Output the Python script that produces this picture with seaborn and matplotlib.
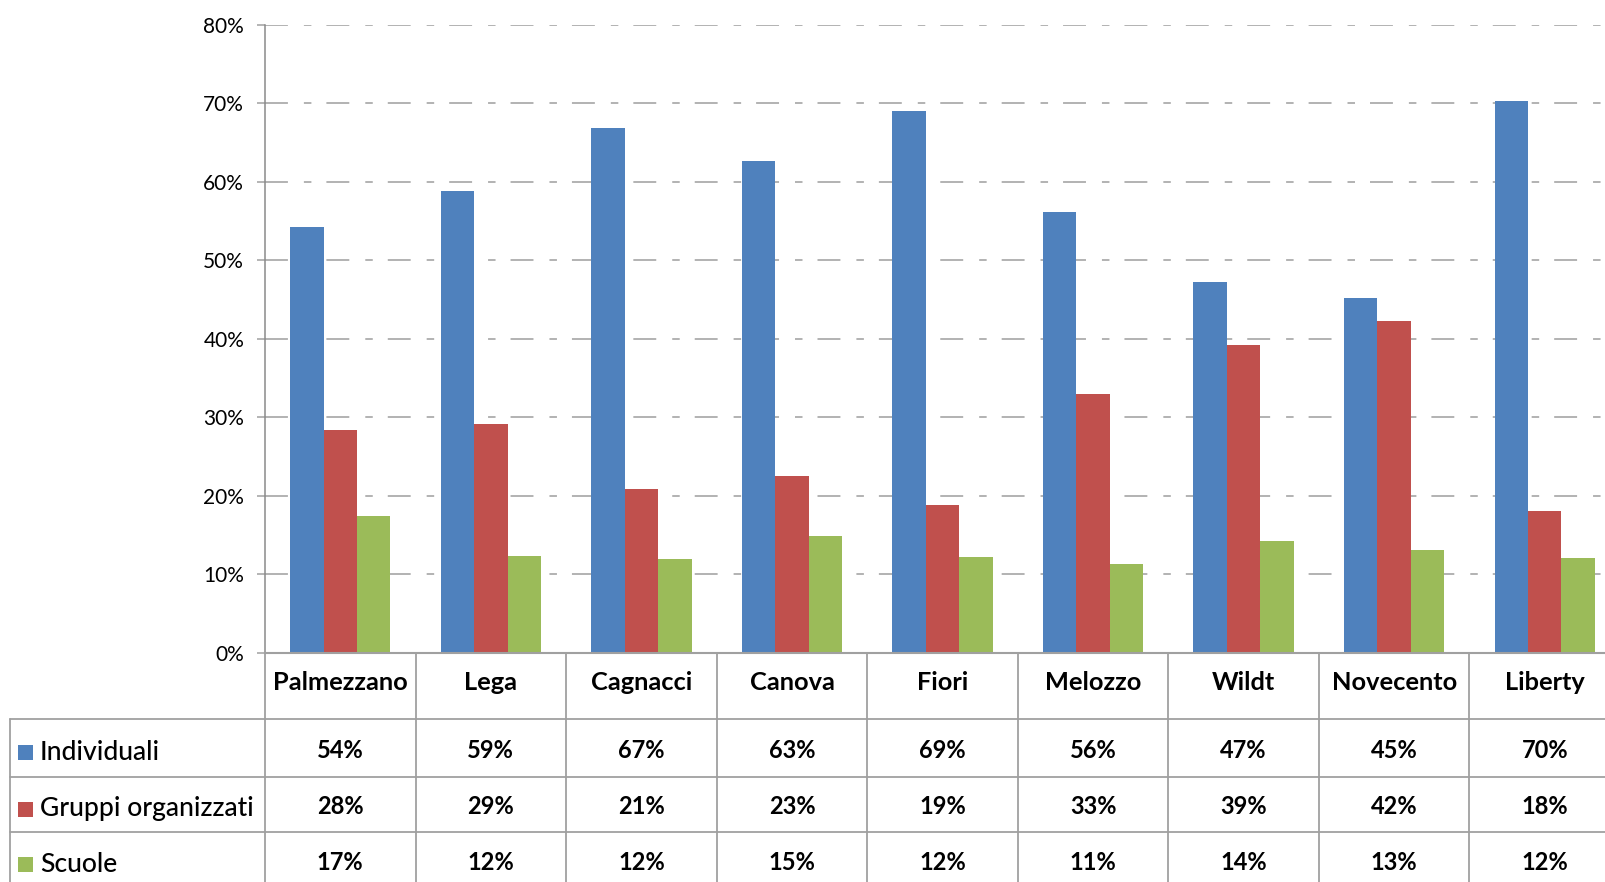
import numpy as np
import pandas as pd
import matplotlib
matplotlib.use('Agg')
import matplotlib.pyplot as plt
import matplotlib.transforms as mtransforms
from matplotlib.lines import Line2D
from matplotlib.patches import Rectangle
import seaborn as sns

# dati (percentuali)
musei = ['Palmezzano', 'Lega', 'Cagnacci', 'Canova', 'Fiori',
         'Melozzo', 'Wildt', 'Novecento', 'Liberty']
individuali = [54.3, 58.8, 66.9, 62.6, 69.0, 56.2, 47.2, 45.2, 70.3]
gruppi = [28.4, 29.1, 20.9, 22.6, 18.8, 33.0, 39.2, 42.3, 18.1]
scuole = [17.4, 12.3, 12.0, 14.9, 12.2, 11.3, 14.2, 13.1, 12.1]
serie = ['Individuali', 'Gruppi organizzati', 'Scuole']
colori = ['#4F81BD', '#C0504D', '#9BBB59']
y_ticks = [0, 10, 20, 30, 40, 50, 60, 70, 80]

df = pd.DataFrame({'museo': musei * 3,
                   'serie': np.repeat(serie, len(musei)),
                   'valore': individuali + gruppi + scuole})

sns.set_theme(style='white')
plt.rcParams['font.family'] = ['Lato', 'DejaVu Sans']
plt.rcParams['lines.scale_dashes'] = False

W, H = 1606, 882
fig = plt.figure(figsize=(W / 100, H / 100), dpi=100)
# asse del grafico: a sinistra x=265px, base y=653px, 80% a y=25px
ax = fig.add_axes([265 / W, (H - 653) / H, (1620 - 265) / W, (653 - 24.7) / H])

sns.barplot(data=df, x='museo', y='valore', hue='serie', order=musei,
            hue_order=serie, palette=colori, saturation=1, width=0.667,
            linewidth=0, legend=False, ax=ax)

grigio = '#a0a0a0'
ax.set_ylim(0, 80)
ax.set_xlim(-0.5, len(musei) - 0.5)
ax.set_yticks(y_ticks)
ax.set_yticklabels([f'{t}%' for t in y_ticks], fontsize=15, color='black')
ax.set_xticks([])
ax.set_xlabel('')
ax.set_ylabel('')
ax.set_axisbelow(True)
ax.yaxis.grid(True, color='#a6a6a6', linewidth=1.2,
              linestyle=(0, (16.5, 11.5, 5.4, 10.8)))
ax.tick_params(axis='y', length=6, width=1.1, color=grigio, pad=9, left=True)
for s in ['top', 'right']:
    ax.spines[s].set_visible(False)
ax.spines['left'].set_color('#8a8a8a')
ax.spines['left'].set_linewidth(1.1)
ax.spines['bottom'].set_color(grigio)
ax.spines['bottom'].set_linewidth(1.5)

# --- tabella dati sotto il grafico ---
def fy(py):
    return 1 - py / H

def fx(px):
    return px / W

tr = mtransforms.blended_transform_factory(ax.transData, fig.transFigure)
righe = [719, 777, 832, 888]

# linee verticali tra le categorie
for i in range(len(musei) + 1):
    fig.add_artist(Line2D([i - 0.5, i - 0.5], [fy(653), fy(H)], transform=tr,
                          color=grigio, linewidth=1.3))
# colonna etichette
fig.add_artist(Line2D([fx(10), fx(10)], [fy(719), fy(H)],
                      transform=fig.transFigure, color=grigio, linewidth=1.3))
for py in righe[:-1]:
    fig.add_artist(Line2D([fx(10), 1], [fy(py), fy(py)],
                          transform=fig.transFigure, color=grigio, linewidth=1.3))

# intestazioni
for i, m in enumerate(musei):
    fig.text(i, fy(683), m, transform=tr, ha='center', va='center',
             fontsize=18.3, fontweight='bold', color='black')

valori = [individuali, gruppi, scuole]
for r, (nome, col, vals) in enumerate(zip(serie, colori, valori)):
    yc = (righe[r] + righe[r + 1]) / 2 + 2
    fig.add_artist(Rectangle((fx(18), fy(yc + 10)), 15 / W, 15 / H,
                             transform=fig.transFigure, color=col, linewidth=0))
    fig.text(fx(40), fy(yc + 2), nome, ha='left', va='center',
             fontsize=19.1, fontweight='medium', color='black')
    for i, v in enumerate(vals):
        fig.text(i, fy(yc), f'{round(v)}%', transform=tr, ha='center',
                 va='center', fontsize=17, fontweight='bold', color='black')

fig.savefig('out.png', dpi=100)
